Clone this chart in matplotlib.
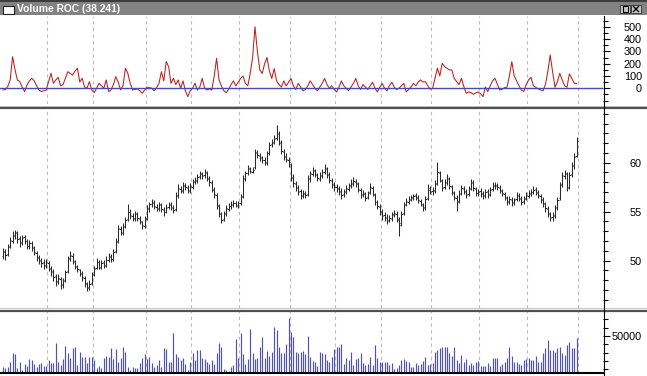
import matplotlib
matplotlib.use("Agg")
import matplotlib.pyplot as plt
from matplotlib.patches import Rectangle
from matplotlib.lines import Line2D
import numpy as np

plt.rcParams['font.family'] = ['Liberation Sans', 'DejaVu Sans']

# ---- data (one bar per trading day) ----
opens = [
    50.5, 51.0, 50.7, 51.5, 52.0, 52.5, 52.8, 52.3, 51.8, 52.4, 52.0, 51.5,
    51.8, 51.3, 50.8, 50.4, 50.0, 49.9, 49.5, 49.8, 49.3, 48.9, 48.4, 47.9,
    48.1, 47.6, 48.0, 48.9, 50.2, 50.5, 49.9, 49.4, 49.0, 48.6, 48.2, 47.6,
    47.3, 47.7, 48.6, 49.3, 49.9, 49.3, 49.9, 49.5, 50.1, 50.5, 50.2, 51.0,
    52.0, 53.2, 52.8, 53.5, 54.3, 55.0, 54.6, 54.3, 54.9, 54.3, 53.9, 53.5,
    54.4, 55.3, 55.8, 56.0, 55.5, 55.3, 55.8, 55.2, 55.0, 55.5, 55.8, 55.4,
    55.3, 56.7, 57.3, 57.1, 57.6, 57.4, 57.1, 57.5, 58.1, 58.1, 58.6, 58.8,
    58.7, 58.9, 58.3, 57.9, 57.2, 56.7, 55.6, 54.8, 54.3, 54.9, 55.3, 55.6,
    55.7, 55.9, 55.6, 55.9, 56.6, 58.3, 58.9, 59.4, 59.1, 59.6, 61.0, 60.7,
    60.5, 60.3, 60.0, 61.0, 61.9, 62.1, 62.5, 62.9, 62.0, 61.1, 60.7, 60.3,
    59.9, 58.5, 57.8, 57.4, 57.1, 56.6, 56.8, 56.8, 58.3, 58.8, 59.2, 58.7,
    58.3, 58.6, 59.0, 59.4, 58.8, 58.1, 57.8, 57.5, 57.3, 57.1, 56.8, 57.1,
    57.3, 57.7, 57.8, 58.0, 57.8, 57.2, 56.8, 56.8, 56.5, 57.0, 57.4, 56.7,
    56.0, 55.5, 55.1, 54.7, 54.5, 54.2, 54.3, 54.8, 54.8, 54.2, 53.8, 54.9,
    55.8, 56.0, 56.2, 56.5, 56.7, 56.4, 56.1, 55.7, 55.5, 56.4, 57.2, 57.1,
    57.1, 57.9, 58.9, 58.1, 57.5, 58.0, 58.3, 57.5, 56.9, 56.4, 56.1, 56.9,
    57.3, 57.0, 56.8, 57.4, 57.9, 57.3, 56.9, 57.1, 56.9, 56.6, 57.1, 56.8,
    57.3, 57.6, 57.7, 57.4, 57.1, 56.8, 56.4, 56.1, 56.2, 56.0, 56.3, 56.6,
    56.3, 56.1, 56.4, 56.6, 56.8, 57.0, 57.3, 56.9, 56.6, 56.2, 55.8, 55.3,
    54.8, 54.5, 54.7, 55.5, 56.4, 57.8, 58.6, 58.8, 57.5, 58.8, 59.7, 60.7,
]
highs = [
    51.3, 51.2, 51.7, 52.4, 53.0, 53.1, 53.0, 52.5, 52.6, 52.6, 52.2, 52.1,
    52.0, 51.5, 51.0, 50.6, 50.3, 50.2, 50.2, 50.0, 49.5, 49.1, 48.6, 48.6,
    48.3, 48.2, 49.0, 50.5, 51.0, 50.8, 50.1, 49.6, 49.2, 48.9, 48.4, 47.8,
    48.0, 48.8, 49.5, 50.3, 50.1, 50.1, 50.1, 50.5, 50.8, 50.7, 51.2, 52.3,
    53.6, 53.5, 53.8, 54.5, 55.8, 55.3, 54.9, 55.1, 55.0, 54.6, 54.1, 54.6,
    55.7, 56.0, 56.3, 56.2, 55.8, 56.0, 55.9, 55.5, 55.8, 56.0, 56.0, 55.7,
    57.0, 57.8, 57.6, 58.0, 57.9, 57.7, 57.9, 58.3, 58.5, 58.8, 59.2, 59.1,
    59.4, 59.2, 58.6, 58.2, 57.5, 56.9, 55.8, 55.0, 55.1, 55.7, 55.9, 56.1,
    56.2, 56.1, 56.1, 56.8, 58.7, 59.2, 59.8, 59.6, 59.6, 61.4, 61.3, 61.0,
    60.7, 60.6, 61.2, 62.1, 62.4, 62.8, 63.8, 63.2, 62.3, 61.4, 61.0, 60.6,
    60.0, 58.8, 58.1, 57.7, 57.3, 57.2, 57.1, 58.7, 59.2, 59.6, 59.4, 58.9,
    59.0, 59.4, 59.9, 59.6, 59.0, 58.4, 58.0, 57.8, 57.6, 57.4, 57.3, 57.7,
    57.9, 58.3, 58.5, 58.3, 58.0, 57.4, 57.2, 57.0, 57.1, 57.9, 57.6, 56.9,
    56.2, 55.8, 55.3, 55.0, 54.8, 54.7, 55.0, 55.2, 55.1, 54.5, 55.1, 56.0,
    56.4, 56.6, 56.7, 56.8, 56.9, 56.7, 56.3, 55.9, 56.6, 57.8, 57.6, 57.5,
    58.2, 60.1, 59.2, 58.3, 58.3, 58.8, 58.5, 57.7, 57.1, 56.7, 57.2, 57.7,
    57.6, 57.3, 57.6, 58.3, 58.2, 57.5, 57.3, 57.4, 57.1, 57.3, 57.3, 57.5,
    58.0, 58.0, 57.9, 57.7, 57.3, 57.0, 56.6, 56.6, 56.5, 56.4, 57.0, 56.9,
    56.6, 56.6, 57.0, 57.2, 57.3, 57.6, 57.5, 57.2, 56.8, 56.5, 56.0, 55.6,
    55.0, 55.0, 55.7, 56.5, 58.0, 59.0, 59.3, 59.0, 59.0, 60.1, 61.0, 62.6,
]
lows = [
    50.2, 50.1, 50.5, 51.3, 51.8, 52.2, 51.8, 51.4, 51.6, 51.7, 51.2, 51.2,
    51.0, 50.6, 50.0, 49.7, 49.4, 49.2, 49.3, 48.9, 48.4, 47.9, 47.4, 47.6,
    47.1, 47.2, 47.8, 48.7, 50.0, 49.7, 49.2, 48.8, 48.4, 47.9, 47.3, 46.9,
    47.0, 47.5, 48.4, 49.1, 49.1, 49.1, 49.3, 49.4, 49.9, 49.9, 50.0, 50.8,
    51.8, 52.6, 52.6, 53.3, 54.1, 54.3, 54.0, 54.1, 54.1, 53.7, 53.2, 53.3,
    54.2, 55.0, 55.5, 55.3, 55.1, 55.1, 55.0, 54.6, 54.9, 55.3, 55.2, 54.9,
    55.1, 56.4, 56.9, 56.9, 57.2, 56.9, 56.9, 57.3, 57.8, 57.9, 58.3, 58.3,
    58.4, 58.1, 57.6, 57.0, 56.4, 55.3, 54.5, 53.8, 54.0, 54.6, 55.1, 55.3,
    55.5, 55.5, 55.4, 55.7, 56.4, 58.1, 58.7, 58.9, 58.9, 59.4, 60.5, 60.2,
    60.0, 59.8, 59.8, 60.8, 61.6, 61.9, 62.3, 61.8, 60.9, 60.3, 60.1, 59.6,
    58.1, 57.5, 57.1, 56.7, 56.3, 56.4, 56.4, 56.6, 58.0, 58.6, 58.5, 58.1,
    58.1, 58.4, 58.8, 58.4, 57.9, 57.4, 57.1, 57.0, 56.7, 56.3, 56.5, 56.8,
    57.1, 57.4, 57.6, 57.5, 57.0, 56.4, 56.5, 56.1, 56.3, 56.8, 56.6, 55.7,
    55.3, 54.7, 54.2, 54.0, 53.7, 53.9, 54.1, 54.5, 53.9, 52.5, 53.5, 54.7,
    55.6, 55.8, 56.1, 56.2, 56.2, 55.9, 55.6, 55.1, 55.2, 56.2, 56.8, 56.7,
    56.9, 57.7, 58.0, 57.1, 57.3, 57.7, 57.3, 56.7, 56.2, 55.1, 55.9, 56.7,
    56.8, 56.4, 56.6, 57.2, 57.1, 56.6, 56.6, 56.5, 56.3, 56.4, 56.4, 56.6,
    57.1, 57.3, 57.2, 56.9, 56.6, 56.2, 55.7, 55.8, 55.6, 55.7, 56.1, 56.1,
    55.7, 55.8, 56.2, 56.4, 56.6, 56.8, 56.7, 56.4, 55.9, 55.5, 55.0, 54.5,
    54.0, 54.1, 54.4, 55.2, 56.2, 57.5, 58.3, 57.1, 57.3, 58.5, 59.4, 60.6,
]
closes = [
    50.9, 50.6, 51.4, 52.1, 52.6, 52.9, 52.2, 51.9, 52.3, 52.0, 51.5, 51.8,
    51.4, 50.9, 50.3, 50.1, 49.8, 49.6, 49.9, 49.2, 48.8, 48.3, 47.8, 48.2,
    47.5, 47.9, 48.8, 50.3, 50.6, 50.0, 49.5, 49.1, 48.7, 48.3, 47.7, 47.2,
    47.6, 48.5, 49.2, 49.9, 49.4, 49.8, 49.6, 50.1, 50.4, 50.2, 50.9, 51.9,
    53.3, 52.9, 53.4, 54.2, 55.0, 54.7, 54.4, 54.8, 54.4, 54.0, 53.6, 54.3,
    55.4, 55.8, 55.9, 55.6, 55.4, 55.7, 55.3, 55.0, 55.4, 55.7, 55.5, 55.2,
    56.6, 57.4, 57.2, 57.7, 57.5, 57.2, 57.6, 58.0, 58.2, 58.5, 58.9, 58.6,
    59.0, 58.4, 58.0, 57.3, 56.8, 55.7, 54.9, 54.2, 54.8, 55.4, 55.6, 55.8,
    55.9, 55.7, 55.9, 56.5, 58.4, 58.9, 59.5, 59.2, 59.3, 61.1, 60.8, 60.6,
    60.3, 60.1, 61.0, 61.8, 62.0, 62.4, 63.0, 62.1, 61.2, 60.6, 60.4, 60.1,
    58.4, 57.9, 57.5, 57.0, 56.7, 56.9, 56.7, 58.4, 58.9, 59.3, 58.8, 58.4,
    58.7, 59.1, 59.5, 58.7, 58.2, 57.7, 57.5, 57.4, 57.0, 56.7, 57.0, 57.4,
    57.6, 57.9, 58.1, 57.9, 57.3, 56.7, 56.9, 56.4, 56.9, 57.5, 56.8, 56.0,
    55.6, 55.0, 54.6, 54.4, 54.1, 54.4, 54.7, 54.9, 54.3, 53.6, 54.8, 55.7,
    56.1, 56.3, 56.4, 56.6, 56.5, 56.2, 55.8, 55.4, 56.3, 57.4, 57.0, 57.2,
    57.8, 59.0, 58.2, 57.4, 57.9, 58.4, 57.6, 57.0, 56.5, 56.0, 56.8, 57.4,
    57.1, 56.7, 57.3, 58.0, 57.4, 56.9, 57.0, 56.8, 56.7, 57.0, 56.7, 57.2,
    57.7, 57.6, 57.5, 57.2, 56.9, 56.5, 56.0, 56.3, 55.9, 56.2, 56.7, 56.4,
    56.0, 56.3, 56.7, 56.9, 57.0, 57.2, 57.0, 56.7, 56.3, 55.9, 55.4, 54.9,
    54.4, 54.6, 55.4, 56.2, 57.7, 58.7, 58.9, 57.4, 58.7, 59.8, 60.6, 62.2,
]
volume = [
    13100, 11100, 13100, 19200, 29100, 28200, 11100, 18400, 9100, 15800, 14300, 21900,
    21100, 15800, 13100, 15800, 17100, 14300, 14300, 21100, 17900, 17900, 41200, 18400,
    15100, 21900, 38000, 30000, 23200, 36000, 37200, 15100, 31200, 24300, 24300, 17100,
    24300, 25100, 21100, 11100, 13900, 11900, 23200, 26000, 25100, 36000, 21900, 34000,
    19200, 23200, 37200, 31200, 12300, 9100, 12700, 11100, 11900, 17100, 23200, 28200,
    21900, 25100, 17100, 12200, 15100, 21100, 13100, 35200, 34400, 18400, 19200, 53200,
    28000, 25100, 21100, 23200, 16300, 9100, 18400, 29100, 21100, 33200, 33200, 23200,
    21900, 18400, 15800, 21100, 15800, 29100, 41200, 37200, 9900, 9100, 7900, 12300,
    15100, 46400, 23200, 53200, 28000, 15800, 21900, 58000, 30000, 21900, 23200, 37200,
    48400, 23200, 32400, 26400, 31200, 60500, 57200, 36400, 29100, 29100, 40000, 72100,
    54500, 48400, 31200, 29100, 31200, 32400, 28000, 50500, 25100, 20000, 18400, 14300,
    31200, 29100, 28200, 21100, 19200, 25100, 34000, 37200, 37200, 40000, 16000, 24000,
    21100, 31200, 15100, 22400, 24000, 29100, 17100, 15100, 15800, 24300, 15100, 39200,
    23200, 19200, 18400, 18400, 18400, 15100, 17100, 9900, 11100, 15100, 21100, 21900,
    20000, 18400, 13100, 13100, 17100, 15100, 15800, 20000, 24300, 15100, 15800, 17100,
    31200, 33200, 35200, 36400, 37200, 36400, 29100, 26000, 37200, 21100, 17100, 27200,
    19200, 22400, 15100, 17100, 15100, 19200, 20000, 13900, 13900, 13900, 17100, 13900,
    23200, 23200, 23200, 13900, 15800, 19200, 23200, 37200, 26400, 19200, 18400, 15800,
    15100, 21100, 21900, 23200, 21100, 21100, 26400, 19200, 19200, 29100, 35200, 45200,
    33200, 33200, 31200, 35200, 37200, 29100, 27200, 39200, 42400, 35200, 36000, 47300,
]
volume_roc = [
    -14, -10, 14, 68, 257, 150, 68, 54, 10, -27,
    27, 60, 81, 60, 20, -14, -27, -20, -14, 54,
    122, 40, 68, 89, 20, 30, 81, 135, 120, 108,
    140, 163, 50, 81, 10, 0, 54, -14, -35, 0,
    41, 20, 0, 68, -27, -14, 30, 95, 50, -14,
    20, 163, 122, 40, -14, -10, -5, -20, -41, -14,
    10, 5, 0, -20, 5, 41, 135, 60, 217, 176,
    40, 81, 30, 68, 0, 60, -20, -68, -20, 0,
    41, -14, 10, 81, 0, -14, -5, -14, 100, 244,
    68, 20, -20, -35, -10, 30, 60, 20, 50, 80,
    100, 40, 20, 120, 250, 500, 300, 150, 120, 200,
    250, 140, 80, 160, 60, 30, 10, 60, 20, 50,
    80, 20, -10, 40, 10, -20, -10, 20, 60, 30,
    0, -20, 10, 40, 80, 30, 0, 20, -10, -30,
    10, 60, 20, 0, -20, 10, 40, 80, 20, -10,
    30, 10, -10, 20, 50, 0, -30, 10, 40, 0,
    -20, 20, 50, 10, -10, 0, 20, 40, -30, -10,
    10, 40, 20, 50, 68, 50, 54, 20, -8, 0,
    80, 163, 100, 203, 176, 163, 149, 150, 80, 55,
    30, 81, 15, -41, -30, -35, -49, -38, -30, -45,
    -68, 10, -27, 20, 60, 81, 30, -14, -8, 5,
    10, 100, 217, 100, 60, 20, -14, -27, 30, 68,
    89, 20, 8, -5, -14, -20, 30, 135, 271, 135,
    8, 54, 122, 68, 20, 8, 117, 80, 41, 38.241,
]
# first bar of each month (vertical grid)
month_start = [19, 38, 60, 79, 99, 120, 139, 158, 179, 199, 219, 240]
title = "Volume ROC (38.241)"

# ---- layout ----
W, H = 647, 376
fig = plt.figure(figsize=(W / 100, H / 100), dpi=100)
fig.patch.set_facecolor('white')


def rect(top, bottom):
    return [0, 1 - bottom / H, 603 / W, (bottom - top) / H]


ax_roc = fig.add_axes(rect(16, 104))
ax_px = fig.add_axes(rect(109, 308))
ax_vol = fig.add_axes(rect(311, 373))

idx = np.arange(len(closes))
grid_col = '#bcbcbc'
for ax in (ax_roc, ax_px, ax_vol):
    ax.set_xlim(-1.25, 250)
    for m in month_start:
        ax.axvline(m - 0.5, color=grid_col, lw=0.8, ls=(0, (3, 3)), zorder=0)
    for s in ax.spines.values():
        s.set_visible(False)
    ax.set_xticks([])
    ax.yaxis.tick_right()
    ax.tick_params(axis='y', which='major', direction='out', length=5,
                   width=0.8, pad=23, labelsize=7.8, colors='black')
    ax.tick_params(axis='y', which='minor', direction='out', length=3.5,
                   width=0.8)

# volume ROC
ax_roc.plot(idx, volume_roc, color='#bf1e1e', lw=0.75, zorder=2)
ax_roc.axhline(0, color='#4a4ab4', lw=1.0, zorder=3)
ax_roc.set_ylim(-128, 588)
ax_roc.set_yticks([0, 100, 200, 300, 400, 500],
                  ['0', '100', '200', '300', '400', '500'])
ax_roc.set_yticks([-100, -50, 50, 150, 250, 350, 450, 550], minor=True)

# price bars
bar_col = '#2a2a2a'
ax_px.vlines(idx, lows, highs, color=bar_col, lw=0.75)
ax_px.hlines(opens, idx - 0.5, idx, color=bar_col, lw=0.75)
ax_px.hlines(closes, idx, idx + 0.5, color=bar_col, lw=0.75)
ax_px.set_ylim(45.17, 65.48)
ax_px.set_yticks([50, 55, 60], ['50', '55', '60'])
ax_px.set_yticks([46, 47, 48, 49, 51, 52, 53, 54, 56, 57, 58, 59,
                  61, 62, 63, 64, 65], minor=True)

# volume
ax_vol.vlines(idx, 0, volume, color='#5252b4', lw=0.85)
ax_vol.set_ylim(5420, 80130)
ax_vol.set_yticks([50000], ['50000'])
ax_vol.set_yticks([10000, 20000, 30000, 40000, 60000, 70000, 80000],
                  minor=True)
ax_vol.spines['bottom'].set_visible(True)
ax_vol.spines['bottom'].set_linewidth(1.5)

for ax in (ax_roc, ax_px, ax_vol):
    for lab in ax.get_yticklabels():
        lab.set_horizontalalignment('right')


# ---- window chrome ----
def fy(y):
    return 1 - y / H


def fx(x):
    return x / W


fig.add_artist(Rectangle((0, fy(15)), 1, 13 / H, color='#828282', lw=0))
fig.add_artist(Rectangle((0, fy(2)), 1, 2 / H, color='#3c3c3c', lw=0))
fig.add_artist(Rectangle((fx(3), fy(14)), 11 / W, 8 / H, facecolor='white',
                         edgecolor='#202020', lw=0.8))
fig.text(fx(17), fy(8.5), title, color='white', fontsize=7.4,
         fontweight='bold', va='center', ha='left')
for bx in (620, 631):
    fig.add_artist(Rectangle((fx(bx), fy(13)), 10 / W, 8 / H,
                             facecolor='#c8c8c8', edgecolor='#303030', lw=0.6))
fig.add_artist(Rectangle((fx(622.5), fy(11.5)), 5 / W, 5 / H,
                         facecolor='none', edgecolor='black', lw=0.8))
fig.add_artist(Line2D([fx(633.5), fx(638.5)], [fy(6.5), fy(11.5)],
                      color='black', lw=1.0))
fig.add_artist(Line2D([fx(633.5), fx(638.5)], [fy(11.5), fy(6.5)],
                      color='black', lw=1.0))

# panel separators and right axis line
for y, c, w in ((105.5, '#c8c8c8', 0.75), (108, '#505050', 1.6),
                (308, '#c8c8c8', 0.75), (311, '#505050', 1.6)):
    fig.add_artist(Line2D([0, 1], [fy(y), fy(y)], color=c, lw=w))
fig.add_artist(Line2D([fx(603.5), fx(603.5)], [fy(16), 0], color='black',
                      lw=0.8))

fig.savefig('out.png', dpi=100, facecolor='white')
